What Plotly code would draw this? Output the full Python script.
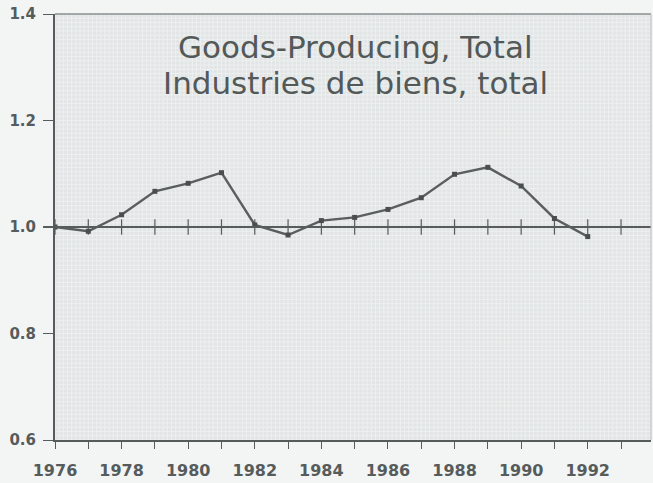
import plotly.graph_objects as go

years = [1976, 1977, 1978, 1979, 1980, 1981, 1982, 1983, 1984,
         1985, 1986, 1987, 1988, 1989, 1990, 1991, 1992]
values = [1.000, 0.992, 1.023, 1.067, 1.082, 1.102, 1.004, 0.985, 1.012,
          1.018, 1.033, 1.055, 1.099, 1.112, 1.077, 1.016, 0.982]
tick_years = list(range(1976, 1994))
x_tick_labels = [str(y) for y in range(1976, 1993, 2)]
y_ticks = [0.6, 0.8, 1.0, 1.2, 1.4]
title_lines = ["Goods-Producing, Total", "Industries de biens, total"]
baseline = 1.0

ink = "#565b5b"
bg = "#f3f4f4"
fig = go.Figure()

# reference line at 1.0
fig.add_shape(type="line", xref="paper", yref="y", x0=-0.02, x1=1.0,
              y0=baseline, y1=baseline, line=dict(color=ink, width=2), layer="above")

# year crosses on the reference line
fig.add_trace(go.Scatter(
    x=tick_years, y=[baseline] * len(tick_years), mode="markers",
    marker=dict(symbol="line-ns", size=11, line=dict(color=ink, width=1.2)),
    hoverinfo="skip", showlegend=False))

fig.add_trace(go.Scatter(
    x=years, y=values, mode="lines+markers",
    line=dict(color="#5a5e5e", width=2.4),
    marker=dict(symbol="square", size=5, color="#4a4e4e"),
    showlegend=False))

for txt, yy in zip(title_lines, [0.922, 0.838]):
    fig.add_annotation(text=txt, xref="paper", yref="paper",
                       x=0.505, y=yy, xanchor="center", yanchor="middle", showarrow=False,
                       font=dict(family="DejaVu Sans", size=31, color="#535858"))

fig.update_layout(
    width=653, height=483,
    margin=dict(l=55, r=2, t=14, b=43, autoexpand=False),
    paper_bgcolor=bg,
    plot_bgcolor="#e2e5e5",
    font=dict(family="DejaVu Sans", size=12, color=ink),
)
fig.update_xaxes(
    range=[1976, 1993.9], tickmode="array", automargin=False,
    tickvals=[int(t) for t in x_tick_labels], ticktext=x_tick_labels,
    ticks="outside", ticklen=7, tickcolor=ink, tickwidth=1,
    ticklabelstandoff=8,
    minor=dict(tickvals=tick_years, ticks="outside", ticklen=7, tickcolor=ink,
               showgrid=False),
    showline=True, linecolor=ink, linewidth=2,
    showgrid=False,
    tickfont=dict(size=16, color=ink, family="DejaVu Sans", weight="bold"),
    zeroline=False,
)
fig.update_yaxes(
    range=[0.6, 1.4], tickmode="array", tickvals=y_ticks, automargin=False,
    ticktext=[f"{v:.1f}" for v in y_ticks],
    ticks="outside", ticklen=10, tickcolor=ink, tickwidth=1,
    ticklabelstandoff=4, ticklabeloverflow="allow",
    showline=True, linecolor=ink, linewidth=2,
    showgrid=False, zeroline=False,
    tickfont=dict(size=15, color=ink, family="DejaVu Sans", weight="bold"),
)

# fine grid texture
fine_x = [1976 + i * 0.125 for i in range(0, 144)]
fine_y = [0.6 + i * 0.008 for i in range(0, 101)]
for fx in fine_x:
    fig.add_shape(type="line", xref="x", yref="paper", x0=fx, x1=fx, y0=0, y1=1,
                  line=dict(color="#eef0f0", width=1), layer="below")
for fy in fine_y:
    fig.add_shape(type="line", xref="paper", yref="y", x0=0, x1=1, y0=fy, y1=fy,
                  line=dict(color="#eef0f0", width=1), layer="below")

# top and right border
fig.add_shape(type="line", xref="paper", yref="paper", x0=0, x1=1, y0=1, y1=1,
              line=dict(color="#8a8f8f", width=1.5))
fig.add_shape(type="line", xref="paper", yref="paper", x0=1, x1=1, y0=0, y1=1,
              line=dict(color="#b5baba", width=1))

fig.write_html(
    "out.html",
    config={"displayModeBar": False},
    post_script="document.body.style.margin='0';document.body.style.background='%s';" % bg,
)
